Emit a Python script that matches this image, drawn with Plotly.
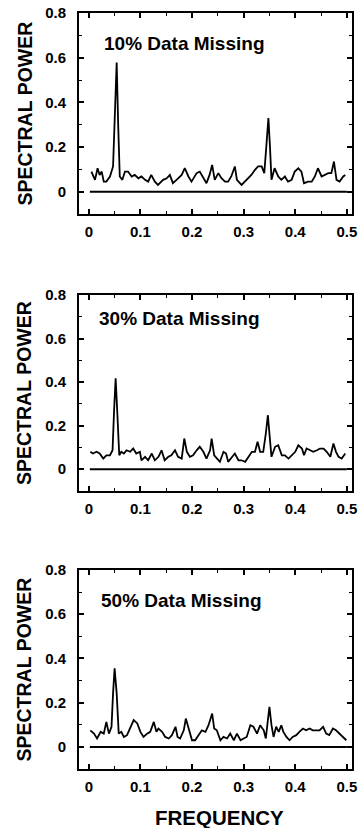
import plotly.graph_objects as go

# ---------------- data ----------------
FREQ_10 = [0.005, 0.012, 0.017, 0.021, 0.025, 0.029, 0.034, 0.041, 0.047, 0.050,
           0.054, 0.057, 0.060, 0.065, 0.070, 0.076, 0.083, 0.089, 0.096, 0.102,
           0.109, 0.115, 0.121, 0.128, 0.134, 0.144, 0.151, 0.157, 0.163, 0.170,
           0.180, 0.186, 0.193, 0.199, 0.209, 0.215, 0.222, 0.228, 0.234, 0.239,
           0.244, 0.251, 0.257, 0.264, 0.270, 0.276, 0.283, 0.287, 0.296, 0.302,
           0.309, 0.315, 0.322, 0.328, 0.335, 0.340, 0.344, 0.348, 0.351, 0.354,
           0.360, 0.367, 0.373, 0.380, 0.386, 0.393, 0.399, 0.406, 0.412, 0.417,
           0.425, 0.432, 0.438, 0.444, 0.451, 0.457, 0.464, 0.470, 0.475, 0.480,
           0.486, 0.493, 0.497]
POWER_10 = [0.090, 0.053, 0.105, 0.075, 0.090, 0.045, 0.045, 0.068, 0.113, 0.293,
            0.578, 0.293, 0.068, 0.053, 0.090, 0.090, 0.068, 0.075, 0.060, 0.068,
            0.053, 0.045, 0.075, 0.045, 0.030, 0.053, 0.060, 0.075, 0.038, 0.053,
            0.075, 0.105, 0.068, 0.045, 0.083, 0.090, 0.060, 0.038, 0.075, 0.120,
            0.053, 0.083, 0.060, 0.045, 0.045, 0.068, 0.113, 0.053, 0.030, 0.045,
            0.060, 0.075, 0.098, 0.113, 0.113, 0.083, 0.203, 0.330, 0.203, 0.053,
            0.105, 0.068, 0.053, 0.068, 0.045, 0.053, 0.090, 0.105, 0.090, 0.038,
            0.045, 0.045, 0.068, 0.105, 0.068, 0.075, 0.083, 0.083, 0.135, 0.053,
            0.045, 0.068, 0.075]

FREQ_30 = [0.003, 0.008, 0.015, 0.021, 0.028, 0.034, 0.041, 0.046, 0.049, 0.052,
           0.055, 0.059, 0.063, 0.068, 0.073, 0.080, 0.086, 0.092, 0.099, 0.102,
           0.109, 0.115, 0.122, 0.128, 0.135, 0.141, 0.147, 0.154, 0.160, 0.167,
           0.173, 0.180, 0.185, 0.190, 0.196, 0.202, 0.209, 0.215, 0.222, 0.228,
           0.235, 0.238, 0.243, 0.248, 0.254, 0.261, 0.266, 0.270, 0.277, 0.283,
           0.290, 0.296, 0.303, 0.309, 0.316, 0.322, 0.327, 0.332, 0.338, 0.343,
           0.347, 0.350, 0.354, 0.361, 0.367, 0.374, 0.380, 0.387, 0.393, 0.400,
           0.406, 0.413, 0.417, 0.422, 0.429, 0.435, 0.442, 0.448, 0.455, 0.461,
           0.468, 0.474, 0.479, 0.484, 0.490, 0.497]
POWER_30 = [0.080, 0.072, 0.080, 0.072, 0.049, 0.064, 0.064, 0.087, 0.271, 0.417,
            0.271, 0.064, 0.080, 0.072, 0.087, 0.080, 0.095, 0.072, 0.080, 0.041,
            0.057, 0.041, 0.072, 0.041, 0.057, 0.087, 0.041, 0.057, 0.064, 0.087,
            0.057, 0.049, 0.141, 0.080, 0.057, 0.064, 0.087, 0.103, 0.080, 0.049,
            0.087, 0.141, 0.064, 0.049, 0.034, 0.080, 0.072, 0.034, 0.057, 0.072,
            0.041, 0.041, 0.034, 0.057, 0.080, 0.080, 0.126, 0.080, 0.080, 0.164,
            0.248, 0.164, 0.057, 0.103, 0.110, 0.064, 0.064, 0.049, 0.064, 0.080,
            0.110, 0.095, 0.064, 0.095, 0.087, 0.080, 0.087, 0.095, 0.095, 0.080,
            0.057, 0.118, 0.080, 0.057, 0.049, 0.072]

FREQ_50 = [0.003, 0.010, 0.016, 0.023, 0.029, 0.034, 0.039, 0.044, 0.047, 0.050,
           0.054, 0.058, 0.063, 0.068, 0.074, 0.081, 0.087, 0.094, 0.100, 0.106,
           0.113, 0.119, 0.126, 0.131, 0.135, 0.142, 0.148, 0.155, 0.161, 0.168,
           0.172, 0.177, 0.184, 0.188, 0.194, 0.200, 0.206, 0.213, 0.219, 0.226,
           0.232, 0.239, 0.243, 0.248, 0.255, 0.261, 0.268, 0.274, 0.281, 0.287,
           0.294, 0.300, 0.306, 0.313, 0.319, 0.326, 0.332, 0.339, 0.343, 0.347,
           0.350, 0.354, 0.358, 0.363, 0.368, 0.373, 0.377, 0.383, 0.389, 0.395,
           0.402, 0.408, 0.415, 0.421, 0.428, 0.434, 0.441, 0.447, 0.454, 0.460,
           0.466, 0.473, 0.479, 0.486, 0.492, 0.499]
POWER_50 = [0.075, 0.060, 0.038, 0.068, 0.060, 0.113, 0.060, 0.091, 0.242, 0.355,
            0.242, 0.060, 0.068, 0.045, 0.053, 0.091, 0.121, 0.106, 0.068, 0.045,
            0.060, 0.068, 0.113, 0.068, 0.083, 0.068, 0.045, 0.038, 0.053, 0.091,
            0.045, 0.038, 0.075, 0.128, 0.075, 0.030, 0.030, 0.053, 0.075, 0.068,
            0.098, 0.151, 0.083, 0.075, 0.030, 0.045, 0.038, 0.060, 0.030, 0.060,
            0.030, 0.038, 0.045, 0.098, 0.091, 0.060, 0.098, 0.075, 0.038, 0.121,
            0.181, 0.098, 0.045, 0.091, 0.068, 0.098, 0.068, 0.045, 0.030, 0.045,
            0.053, 0.068, 0.083, 0.075, 0.083, 0.075, 0.075, 0.075, 0.091, 0.060,
            0.053, 0.083, 0.075, 0.060, 0.045, 0.030]

ZERO_LINE_X = [0.002, 0.5]
ZERO_LINE_Y = [0.0, 0.0]

PANEL_LABELS = ["10% Data Missing", "30% Data Missing", "50% Data Missing"]
LABEL_POS = [(0.025, 0.665), (0.015, 0.69), (0.019, 0.66)]
X_TICKS = [0, 0.1, 0.2, 0.3, 0.4, 0.5]
X_TICKTEXT = ["0", "0.1", "0.2", "0.3", "0.4", "0.5"]
Y_TICKS = [0, 0.2, 0.4, 0.6, 0.8]
Y_TICKTEXT = ["0", "0.2", "0.4", "0.6", "0.8"]
Y_TITLE = "SPECTRAL POWER"
X_TITLE = "FREQUENCY"

series = [(FREQ_10, POWER_10), (FREQ_30, POWER_30), (FREQ_50, POWER_50)]

# ---------------- layout geometry ----------------
W, H = 361, 828
x_dom = [79 / W, 352 / W]
frames = [(13, 214), (295, 491), (570, 769)]
y_doms = [[1 - b / H, 1 - t / H] for t, b in frames]

FONT = "Liberation Sans, Arial, Helvetica, sans-serif"
TICKFONT = dict(family=FONT, size=15, weight="bold", color="black")

fig = go.Figure()
layout = dict(
    width=W, height=H,
    margin=dict(l=0, r=0, t=0, b=0),
    paper_bgcolor="white", plot_bgcolor="white",
    showlegend=False,
    font=dict(family=FONT, color="black"),
)
annotations = []

for i, ((fx, py), (lx, ly)) in enumerate(zip(series, LABEL_POS)):
    n = "" if i == 0 else str(i + 1)
    xa, ya = "x" + n, "y" + n
    fig.add_trace(go.Scatter(x=ZERO_LINE_X, y=ZERO_LINE_Y, mode="lines",
                             line=dict(color="black", width=2),
                             xaxis=xa, yaxis=ya, hoverinfo="skip"))
    fig.add_trace(go.Scatter(x=fx, y=py, mode="lines",
                             line=dict(color="black", width=1.8),
                             xaxis=xa, yaxis=ya, name=PANEL_LABELS[i]))
    layout["xaxis" + n] = dict(
        domain=x_dom, anchor=ya, range=[-0.019, 0.51],
        tickvals=X_TICKS, ticktext=X_TICKTEXT,
        ticks="inside", ticklen=5, tickwidth=1.5, tickcolor="black",
        minor=dict(dtick=0.05, tick0=0, ticks="inside", ticklen=3,
                   tickwidth=1.2, tickcolor="black"),
        showline=True, linewidth=2, linecolor="black", mirror="ticks",
        showgrid=False, zeroline=False, automargin=False,
        ticklabelstandoff=3,
        tickfont=TICKFONT,
    )
    layout["yaxis" + n] = dict(
        domain=y_doms[i], anchor=xa, range=[-0.1, 0.8],
        tickvals=Y_TICKS, ticktext=Y_TICKTEXT,
        ticks="inside", ticklen=5, tickwidth=1.5, tickcolor="black",
        minor=dict(dtick=0.1, tick0=0, ticks="inside", ticklen=3,
                   tickwidth=1.2, tickcolor="black"),
        showline=True, linewidth=2, linecolor="black", mirror="ticks",
        showgrid=False, zeroline=False, automargin=False,
        ticklabelstandoff=8,
        tickfont=TICKFONT,
    )
    annotations.append(dict(
        text=PANEL_LABELS[i], x=lx, y=ly, xref=xa, yref=ya,
        xanchor="left", yanchor="middle", showarrow=False,
        font=dict(family=FONT, size=19, weight="bold", color="black"),
    ))
    annotations.append(dict(
        text=Y_TITLE, x=24 / W, y=(y_doms[i][0] + y_doms[i][1]) / 2,
        xref="paper", yref="paper", textangle=-90,
        xanchor="center", yanchor="middle", showarrow=False,
        font=dict(family=FONT, size=19.5, weight="bold", color="black"),
    ))

annotations.append(dict(
    text=X_TITLE, x=220 / W, y=1 - 817 / H, xref="paper", yref="paper",
    xanchor="center", yanchor="middle", showarrow=False,
    font=dict(family=FONT, size=20.5, weight="bold", color="black"),
))
layout["annotations"] = annotations
fig.update_layout(**layout)
fig.write_html("out.html")
